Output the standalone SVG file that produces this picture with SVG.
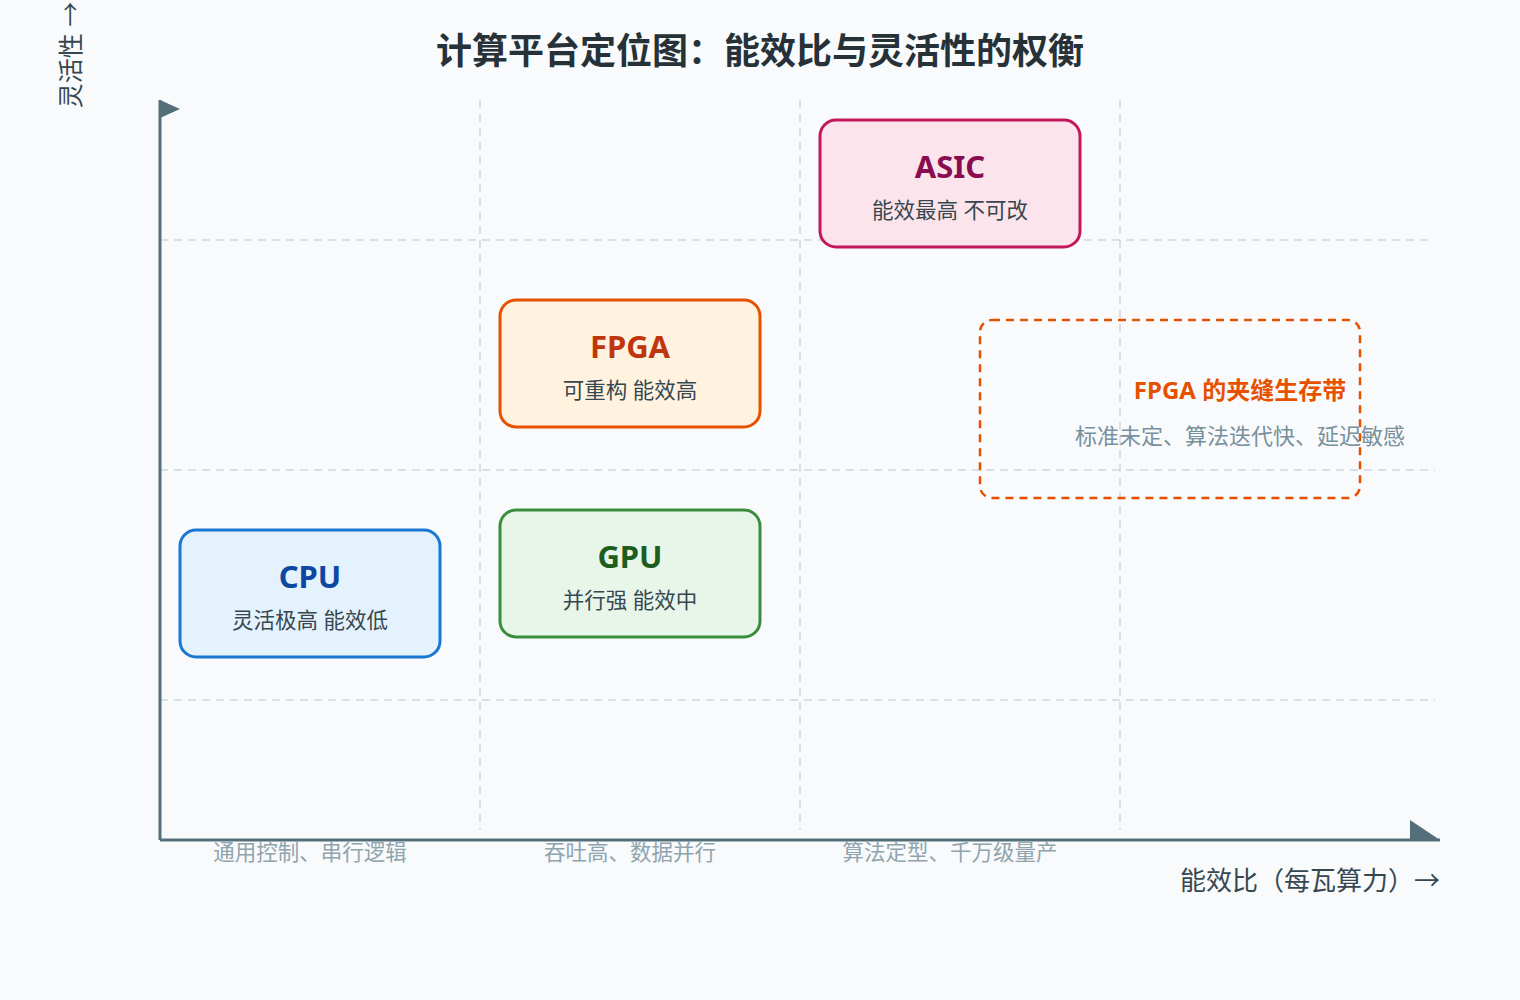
<svg xmlns="http://www.w3.org/2000/svg" width="1520" height="1000" viewBox="0 0 1520 1000">
<style>
text{font-family:"Noto Sans","Noto Sans CJK SC",sans-serif}
.grid{stroke:#cfd8dc;stroke-width:1.5;stroke-dasharray:8 6;fill:none}
.axis{stroke:#546e7a;stroke-width:3;fill:none}
.t{font-size:31px;font-weight:bold;text-anchor:middle}
.s{font-size:21.5px;fill:#37474f;text-anchor:middle}
.lab{font-size:21.5px;fill:#90a4ae;text-anchor:middle}
</style>
<rect width="1520" height="1000" fill="#f8fafc"/>
<text x="760" y="64" text-anchor="middle" font-size="36" font-weight="bold" fill="#263238">计算平台定位图：能效比与灵活性的权衡</text>
<g id="grid">
<path class="grid" d="M480 100V830M800 100V830M1120 100V830M160 240H1435M160 470H1435M160 700H1435"/>
</g>
<g id="connectors">
<path class="axis" d="M160 840V100M160 840H1440"/>
<path d="M160 100L180 109L160 118Z" fill="#546e7a"/>
<path d="M1410 820L1440 840H1410Z" fill="#546e7a"/>
</g>
<text x="80" y="55" transform="rotate(-90 80 55)" text-anchor="middle" font-size="25" fill="#37474f">灵活性 →</text>
<text x="1440" y="890" text-anchor="end" font-size="26" fill="#37474f">能效比（每瓦算力）→</text>
<text class="lab" x="310" y="860">通用控制、串行逻辑</text>
<text class="lab" x="630" y="860">吞吐高、数据并行</text>
<text class="lab" x="950" y="860">算法定型、千万级量产</text>
<g id="asic"><rect x="820" y="120" width="260" height="127" rx="16" fill="#fce4ec" stroke="#c2185b" stroke-width="3"/><text class="t" x="950" y="178" fill="#880e4f">ASIC</text><text class="s" x="950" y="218">能效最高 不可改</text></g>
<g id="fpga"><rect x="500" y="300" width="260" height="127" rx="16" fill="#fff3e0" stroke="#e65100" stroke-width="3"/><text class="t" x="630" y="358" fill="#bf360c">FPGA</text><text class="s" x="630" y="398">可重构 能效高</text></g>
<g id="gpu"><rect x="500" y="510" width="260" height="127" rx="16" fill="#e8f5e9" stroke="#388e3c" stroke-width="3"/><text class="t" x="630" y="568" fill="#1b5e20">GPU</text><text class="s" x="630" y="608">并行强 能效中</text></g>
<g id="cpu"><rect x="180" y="530" width="260" height="127" rx="16" fill="#e3f2fd" stroke="#1976d2" stroke-width="3"/><text class="t" x="310" y="588" fill="#0d47a1">CPU</text><text class="s" x="310" y="628">灵活极高 能效低</text></g>
<g id="niche"><rect x="980" y="320" width="380" height="178" rx="12" fill="none" stroke="#e65100" stroke-width="2.5" stroke-dasharray="8 6"/><text x="1240" y="399" text-anchor="middle" font-size="24" font-weight="bold" fill="#e65100">FPGA 的夹缝生存带</text><text x="1240" y="444" text-anchor="middle" font-size="22" fill="#78909c">标准未定、算法迭代快、延迟敏感</text></g>
</svg>
